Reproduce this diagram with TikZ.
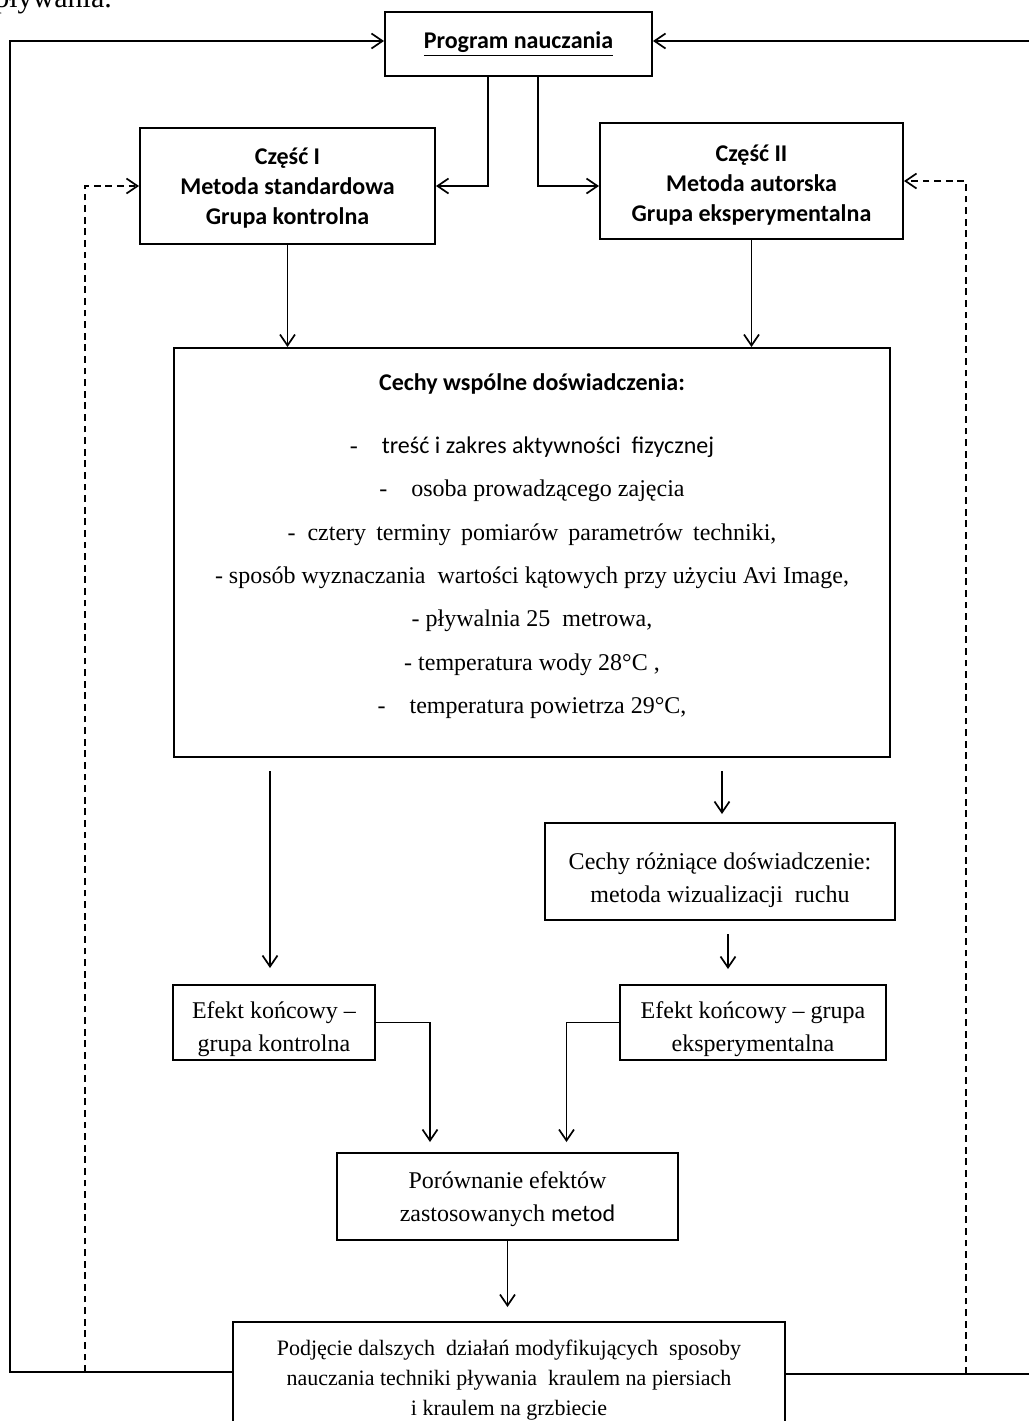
\documentclass[tikz,border=0pt]{standalone}
\usepackage{fontspec}
\setmainfont{Liberation Serif}
\newfontfamily\calfont{Carlito}
\usetikzlibrary{arrows.meta}
\tikzset{
  box/.style={draw, line width=1pt, inner sep=0pt, align=center},
  conn/.style={line width=0.85pt, -{Straight Barb[length=5.5pt,width=7.5pt]}},
  dconn/.style={conn, dash pattern=on 3.4pt off 2.4pt},
  sansbold/.style={font=\calfont\bfseries\fontsize{12pt}{15pt}\selectfont},
  serif12/.style={font=\fontsize{12pt}{16.5pt}\selectfont},
}
\begin{document}
\begin{tikzpicture}[x=0.5pt,y=-0.5pt]
\useasboundingbox (0,0) rectangle (1029,1421);
\clip (0,0) rectangle (1029,1421);

% cut-off page text
\node[anchor=base west, inner sep=0pt, font=\fontsize{15pt}{18pt}\selectfont] (pagetxt) at (-6,7) {pływania.};

% boxes
\node[box, sansbold, minimum width=133.5pt, minimum height=32pt] (prog) at (518.5,44) {\underline{Program nauczania}};
\node[box, sansbold, minimum width=147.5pt, minimum height=58pt] (p1) at (287.5,186) {\rule{0pt}{10pt}Część I\\Metoda standardowa\\Grupa kontrolna};
\node[box, sansbold, minimum width=151.5pt, minimum height=58pt] (p2) at (751.5,181) {\rule{0pt}{12pt}Część II\\Metoda autorska\\Grupa eksperymentalna};

\node[box, minimum width=358pt, minimum height=204.5pt] (big) at (532,552.5) {};
\node[align=center, inner sep=0pt, font=\fontsize{12pt}{21.65pt}\selectfont] (bigtxt) at (532,546)
 {{\calfont\bfseries Cechy wspólne doświadczenia:}\\[10pt]
  -\quad{\calfont treść i zakres aktywności\ \ fizycznej}\\
  -\quad osoba prowadzącego zajęcia\\
  -\ \ {\spaceskip=0.42em plus 0.1em\relax cztery terminy pomiarów parametrów techniki,}\\
  - sposób wyznaczania\ \ wartości kątowych przy użyciu Avi Image,\\
  - pływalnia 25\ \ metrowa,\\
  - temperatura wody 28°C\ ,\\
  -\quad temperatura powietrza 29°C,};

\node[box, serif12, minimum width=175pt, minimum height=48.5pt] (diff) at (720,871.5) {\rule{0pt}{17pt}Cechy różniące doświadczenie:\\metoda wizualizacji\ \ ruchu};
\node[box, serif12, minimum width=101pt, minimum height=37.5pt] (ek) at (274,1022.5) {\rule{0pt}{15pt}Efekt końcowy --\\grupa kontrolna};
\node[box, serif12, minimum width=133pt, minimum height=37.5pt] (ee) at (753,1022.5) {\rule{0pt}{15pt}Efekt końcowy -- grupa\\eksperymentalna};
\node[box, serif12, minimum width=170.5pt, minimum height=43.5pt] (por) at (507.5,1196.5) {\rule{0pt}{11pt}Porównanie efektów\\zastosowanych {\calfont metod}};
\node[box, font=\fontsize{11pt}{15pt}\selectfont, minimum width=276pt, minimum height=58pt] (final) at (509,1380)
 {Podjęcie dalszych\ \ działań modyfikujących\ \ sposoby\\nauczania techniki pływania\ \ kraulem na piersiach\\i kraulem na grzbiecie};

% outer feedback loops
\draw[conn] ([yshift=4pt]final.west) -| (10,41) -- ([yshift=1.5pt]prog.west);
\draw[conn] ([yshift=3pt]final.east) -| (1045,41) -- ([yshift=1.5pt]prog.east);

% dashed loops
\coordinate (dl) at (85,1372);
\coordinate (dr) at (966,1374);
\draw[dconn] (dl) |- (p1.west);
\draw[dconn] (dr) |- (p2.east);

% program to parts
\draw[conn] ([xshift=-15.25pt]prog.south) |- (p1.east);
\draw[conn] ([xshift=9.75pt]prog.south) |- ([yshift=-2.5pt]p2.west);

% parts to common features
\draw[conn] (p1.south) -- (p1.south |- big.north);
\draw[conn] (p2.south) -- (p2.south |- big.north);

% below common features
\draw[conn, shorten <=6.5pt, shorten >=8pt] ([xshift=-2pt]big.south -| ek.north) -- ([xshift=-2pt]ek.north);
\draw[conn, shorten <=6.5pt, shorten >=4pt] ([xshift=1pt]big.south -| diff.north) -- ([xshift=1pt]diff.north);
\draw[conn, shorten <=6.5pt, shorten >=7.5pt] ([xshift=4pt]diff.south) -- ([xshift=4pt]diff.south |- ee.north);

% effects to comparison
\draw[conn, shorten >=5pt] (ek.east) -| ([xshift=-38.75pt]por.north);
\draw[conn, shorten >=5pt] (ee.west) -| ([xshift=29.5pt]por.north);

% comparison to final
\draw[conn, shorten >=7pt] (por.south) -- (por.south |- final.north);
\end{tikzpicture}
\end{document}
